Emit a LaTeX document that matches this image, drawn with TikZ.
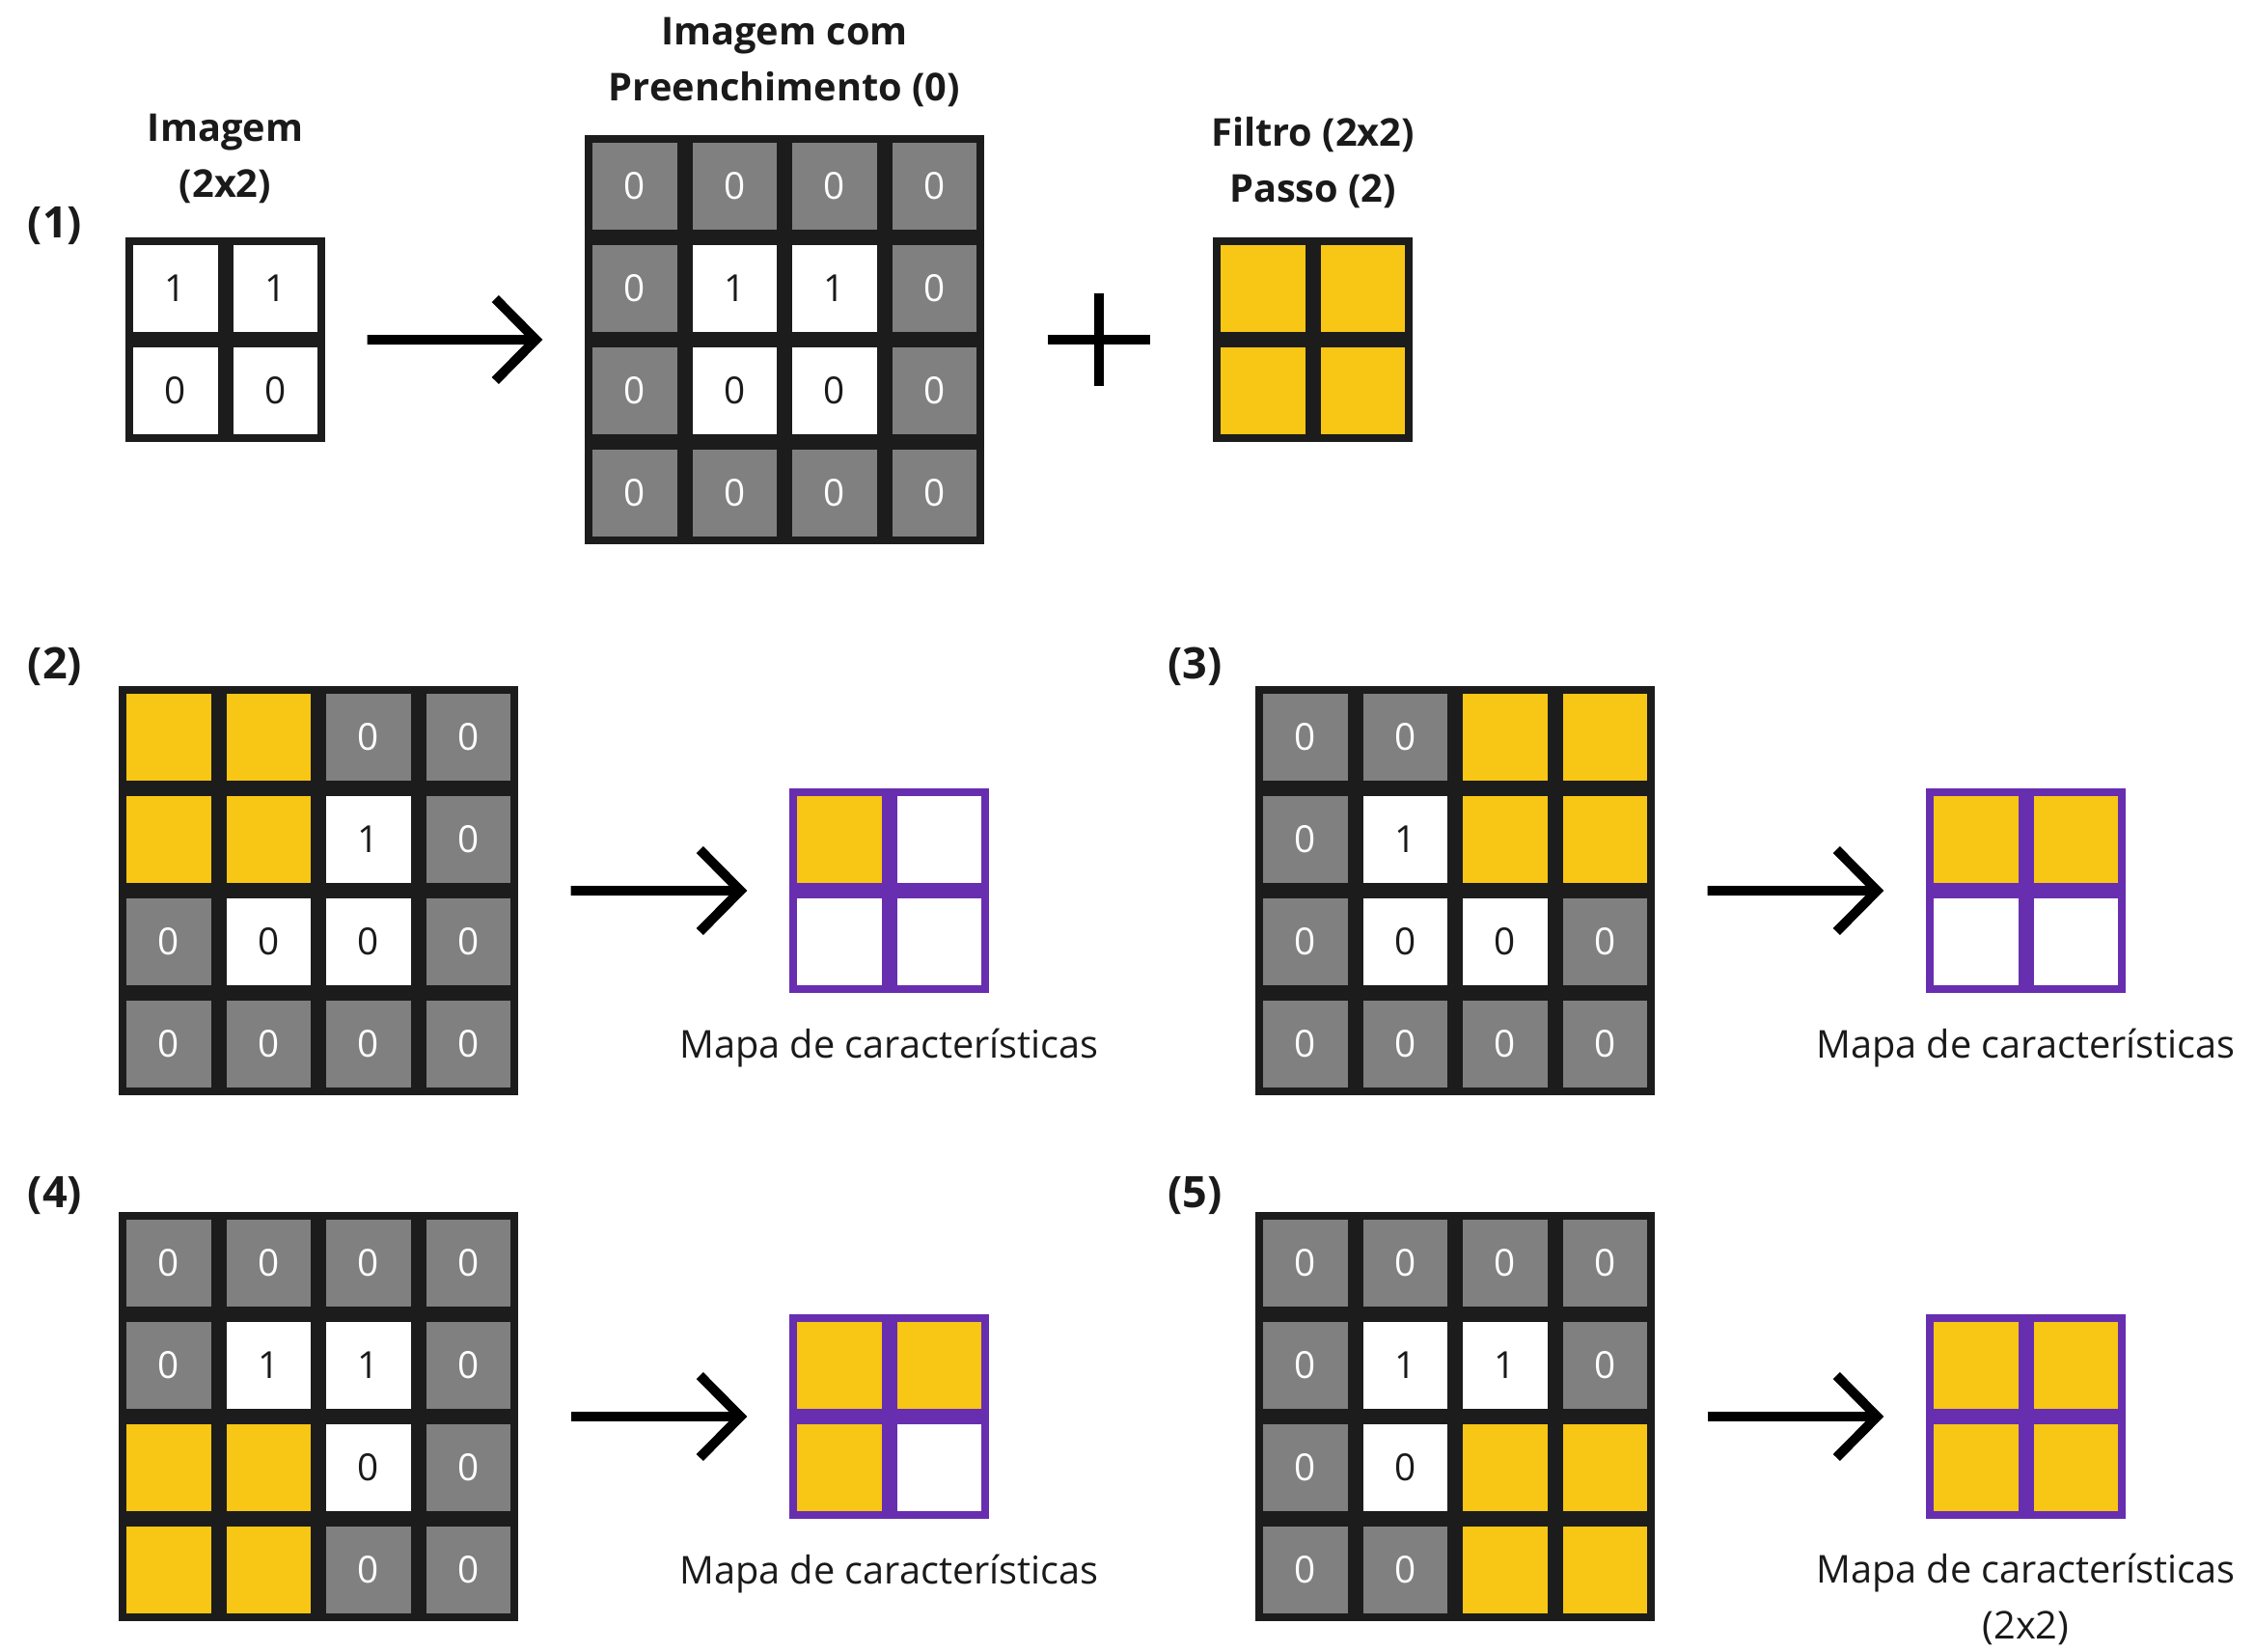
\documentclass[tikz,border=0pt]{standalone}
\usepackage{fontspec}
\setmainfont{Open Sans}
\usepackage{tikz}
\usetikzlibrary{arrows.meta,positioning,calc,fit}
\definecolor{filtroyellow}{RGB}{248,198,20}
\definecolor{padgray}{RGB}{128,128,128}
\definecolor{gridframe}{RGB}{28,28,28}
\definecolor{mapapurple}{RGB}{104,46,176}
\definecolor{textblack}{RGB}{26,26,26}
\newcommand{\txtsize}{\fontsize{11.3}{16.5}\selectfont}
\newcommand{\cellsize}{\fontsize{11}{13}\selectfont}
% one grid of cells: name, top-left corner, rows of cell codes
\newcommand{\cellgrid}[3]{%
  \foreach \row [count=\i] in {#3} {
    \foreach \c [count=\j] in \row {
      \node (#1-\i-\j) at ($(#2)+(\j*1.035-0.5175,-\i*1.06+0.53)$) [cell-\c];
    }
  }
}

\begin{document}
\begin{tikzpicture}[
  cell/.style={draw=gridframe, line width=0.08cm, minimum width=0.955cm,
    minimum height=0.98cm, inner sep=0pt, font=\cellsize},
  cell-g/.style={cell, fill=padgray, text=white, node contents=0},
  cell-a/.style={cell, fill=white, text=textblack, node contents=1},
  cell-b/.style={cell, fill=white, text=textblack, node contents=0},
  cell-y/.style={cell, fill=filtroyellow, node contents={}},
  cell-m/.style={cell, draw=mapapurple, fill=white, node contents={}},
  cell-n/.style={cell, draw=mapapurple, fill=filtroyellow, node contents={}},
  grid/.style={inner sep=0pt},
  titulo/.style={font=\bfseries\txtsize, text=textblack, align=center, inner sep=0pt},
  legenda/.style={font=\txtsize, text=textblack, align=center, inner sep=0pt},
  steplabel/.style={font=\bfseries\fontsize{12.8}{15}\selectfont, text=textblack, inner sep=0pt},
  bigarrow/.style={-{Straight Barb[length=0.42cm, width=0.85cm]}, line width=0.1cm},
  plussign/.style={line width=0.1cm}
]
\useasboundingbox (0,0) rectangle (23.36,-17.11);

% (1) image, padding and filter
\cellgrid{img}{1.30,-2.46}{{a,a},{b,b}}
\cellgrid{pad}{6.06,-1.40}{{g,g,g,g},{g,a,a,g},{g,b,b,g},{g,g,g,g}}
\cellgrid{filt}{12.57,-2.46}{{y,y},{y,y}}
\node[grid, fit=(img-1-1)(img-2-2)] (img) {};
\node[grid, fit=(pad-1-1)(pad-4-4)] (pad) {};
\node[grid, fit=(filt-1-1)(filt-2-2)] (filt) {};

\node[steplabel] (lab1) at (0.57,-2.34) {(1)};
\node[titulo, above=0.34cm of img] (imgtitle) {Imagem\\(2x2)};
\node[titulo, above=0.28cm of pad] (padtitle) {Imagem com\\Preenchimento (0)};
\node[titulo, above=0.29cm of filt] (filttitle) {Filtro (2x2)\\Passo (2)};

\draw[bigarrow, shorten <=0.43cm, shorten >=0.43cm] (img) -- (pad);
\coordinate (plus) at ($(pad.east)!0.5!(filt.west)$);
\draw[plussign] ($(plus)+(-0.53,0)$) -- ($(plus)+(0.53,0)$)
  ($(plus)+(0,-0.48)$) -- ($(plus)+(0,0.48)$);

% (2)-(5) filter positions and feature maps
\cellgrid{s2}{1.23,-7.11}{{y,y,g,g},{y,y,a,g},{g,b,b,g},{g,g,g,g}}
\cellgrid{fm2}{8.18,-8.17}{{n,m},{m,m}}
\cellgrid{s3}{13.01,-7.11}{{g,g,y,y},{g,a,y,y},{g,b,b,g},{g,g,g,g}}
\cellgrid{fm3}{19.96,-8.17}{{n,n},{m,m}}
\cellgrid{s4}{1.23,-12.56}{{g,g,g,g},{g,a,a,g},{y,y,b,g},{y,y,g,g}}
\cellgrid{fm4}{8.18,-13.62}{{n,n},{n,m}}
\cellgrid{s5}{13.01,-12.56}{{g,g,g,g},{g,a,a,g},{g,b,y,y},{g,g,y,y}}
\cellgrid{fm5}{19.96,-13.62}{{n,n},{n,n}}
\foreach \k in {2,3,4,5} {
  \node[grid, fit=(s\k-1-1)(s\k-4-4)] (s\k) {};
  \node[grid, fit=(fm\k-1-1)(fm\k-2-2)] (fm\k) {};
  \draw[bigarrow, shorten <=0.54cm, shorten >=0.43cm] (s\k) -- (fm\k);
}

\node[steplabel] (lab2) at (0.57,-6.91) {(2)};
\node[steplabel] (lab3) at (12.385,-6.91) {(3)};
\node[steplabel] (lab4) at (0.57,-12.39) {(4)};
\node[steplabel] (lab5) at (12.385,-12.39) {(5)};

\node[legenda, below=0.36cm of fm2] (cap2) {Mapa de características};
\node[legenda, below=0.36cm of fm3] (cap3) {Mapa de características};
\node[legenda, below=0.36cm of fm4] (cap4) {Mapa de características};
\node[legenda, below=0.35cm of fm5] (cap5) {Mapa de características\\(2x2)};
\end{tikzpicture}
\end{document}
